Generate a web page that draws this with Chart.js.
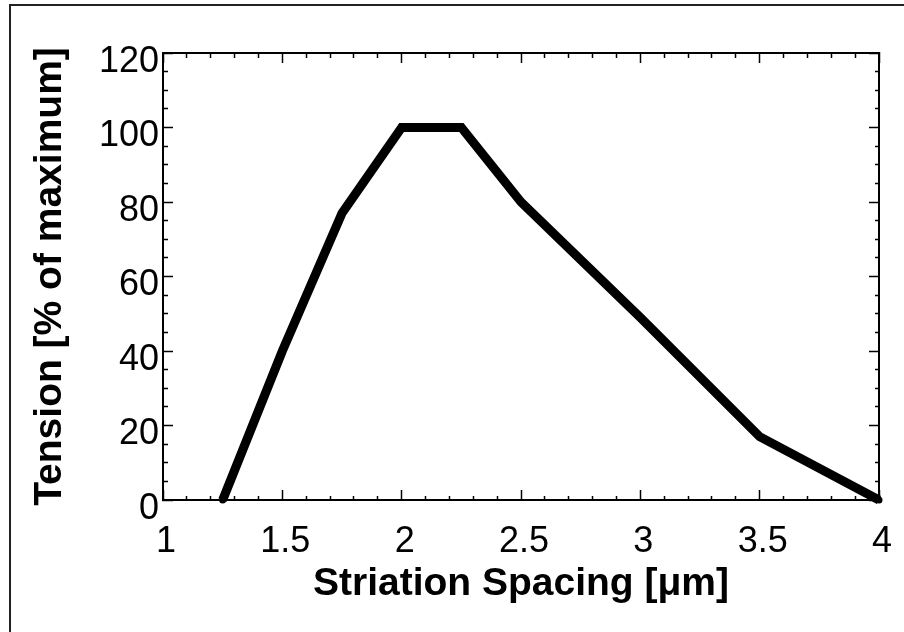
<!DOCTYPE html>
<html>
<head>
<meta charset="utf-8">
<script src="https://cdn.jsdelivr.net/npm/chart.js@4/dist/chart.umd.min.js"></script>
<style>
  html, body { margin: 0; padding: 0; background: #fff; }
  #wrap { position: relative; width: 904px; height: 632px; overflow: hidden; }
  #frame { position: absolute; left: 9px; top: 4px; width: 900px; height: 640px;
           border-left: 2px solid #222; border-top: 2px solid #222; pointer-events: none; }
  canvas { display: block; }
</style>
</head>
<body>
<div id="wrap">
  <canvas id="c" width="904" height="632"></canvas>
  <div id="frame"></div>
</div>
<script>
// ---- data ----
const spacing = [1.25, 1.5, 1.75, 2, 2.25, 2.5, 3, 3.5, 4];      // Striation spacing [µm]
const tension = [0, 40, 77, 100, 100, 80, 49, 17, 0];            // Tension [% of maximum]
const xMajorTicks = [1, 1.5, 2, 2.5, 3, 3.5, 4];
const xTickLabels = ['1', '1.5', '2', '2.5', '3', '3.5', '4'];
const yMajorTicks = [0, 20, 40, 60, 80, 100, 120];
const yTickLabels = ['0', '20', '40', '60', '80', '100', '120'];
const xTitle = 'Striation Spacing [\u03BCm]';
const yTitle = 'Tension [% of maximum]';

const FONT = '"Liberation Sans", Arial, Helvetica, sans-serif';

function findMajor(v, majors) {
  for (let i = 0; i < majors.length; i++) if (Math.abs(v - majors[i]) < 1e-6) return i;
  return -1;
}

// grid options making inward ticks: major 10px, minor 5px
function gridOpts(majors, startsAtBorder) {
  return {
    display: true,
    drawOnChartArea: false,
    drawTicks: true,
    tickLength: -10,
    tickColor: '#000',
    tickWidth: 1.5,
    tickBorderDash: (ctx) => {
      const v = ctx.tick ? ctx.tick.value : 0;
      if (findMajor(v, majors) >= 0) return [];
      return startsAtBorder ? [5, 40] : [0, 5, 5, 40];
    }
  };
}

function fixSize(prop, val) {
  return (s) => {
    s[prop] = val;
    s.paddingLeft = 0; s.paddingRight = 0; s.paddingTop = 0; s.paddingBottom = 0;
  };
}

const points = spacing.map((x, i) => ({ x: x, y: tension[i] }));

new Chart(document.getElementById('c'), {
  type: 'line',
  data: {
    datasets: [{
      data: points,
      borderColor: '#000',
      backgroundColor: '#000',
      borderWidth: 9,
      pointRadius: 3.5,
      pointBackgroundColor: '#000',
      pointBorderWidth: 0,
      tension: 0,
      clip: false,
      fill: false
    }]
  },
  options: {
    responsive: false,
    animation: false,
    devicePixelRatio: 1,
    layout: { padding: { left: 0, top: 53, right: 25, bottom: 0 } },
    plugins: { legend: { display: false }, tooltip: { enabled: false } },
    scales: {
      x: {
        type: 'linear', position: 'bottom', min: 1, max: 4,
        border: { display: true, color: '#000', width: 2 },
        grid: gridOpts(xMajorTicks, true),
        ticks: {
          stepSize: 0.1, maxTicksLimit: 100, autoSkip: false, maxRotation: 0,
          padding: 30, labelOffset: 3,
          color: '#000', font: { family: FONT, size: 36 },
          callback: (v) => { const i = findMajor(v, xMajorTicks); return i >= 0 ? xTickLabels[i] : ''; }
        },
        title: { display: true, text: xTitle, color: '#000',
                 font: { family: FONT, size: 39, weight: 'bold' }, padding: { top: 0, bottom: 24 } },
        afterFit: fixSize('height', 132)
      },
      xTop: {
        type: 'linear', position: 'top', min: 1, max: 4,
        border: { display: true, color: '#000', width: 2 },
        grid: gridOpts(xMajorTicks, false),
        ticks: { display: false, stepSize: 0.1, maxTicksLimit: 100, autoSkip: false },
        afterFit: fixSize('height', 0)
      },
      y: {
        type: 'linear', position: 'left', min: 0, max: 120,
        border: { display: true, color: '#000', width: 2 },
        grid: gridOpts(yMajorTicks, false),
        ticks: {
          stepSize: 5, maxTicksLimit: 100, autoSkip: false,
          padding: 14, labelOffset: 9,
          color: '#000', font: { family: FONT, size: 36 },
          callback: (v) => { const i = findMajor(v, yMajorTicks); return i >= 0 ? yTickLabels[i] : ''; }
        },
        title: { display: true, text: yTitle, color: '#000',
                 font: { family: FONT, size: 39, weight: 'bold' }, padding: { top: 27, bottom: 0 } },
        afterFit: fixSize('width', 163)
      },
      yRight: {
        type: 'linear', position: 'right', min: 0, max: 120,
        border: { display: true, color: '#000', width: 2 },
        grid: gridOpts(yMajorTicks, true),
        ticks: { display: false, stepSize: 5, maxTicksLimit: 100, autoSkip: false },
        afterFit: fixSize('width', 0)
      }
    }
  }
});
</script>
</body>
</html>
